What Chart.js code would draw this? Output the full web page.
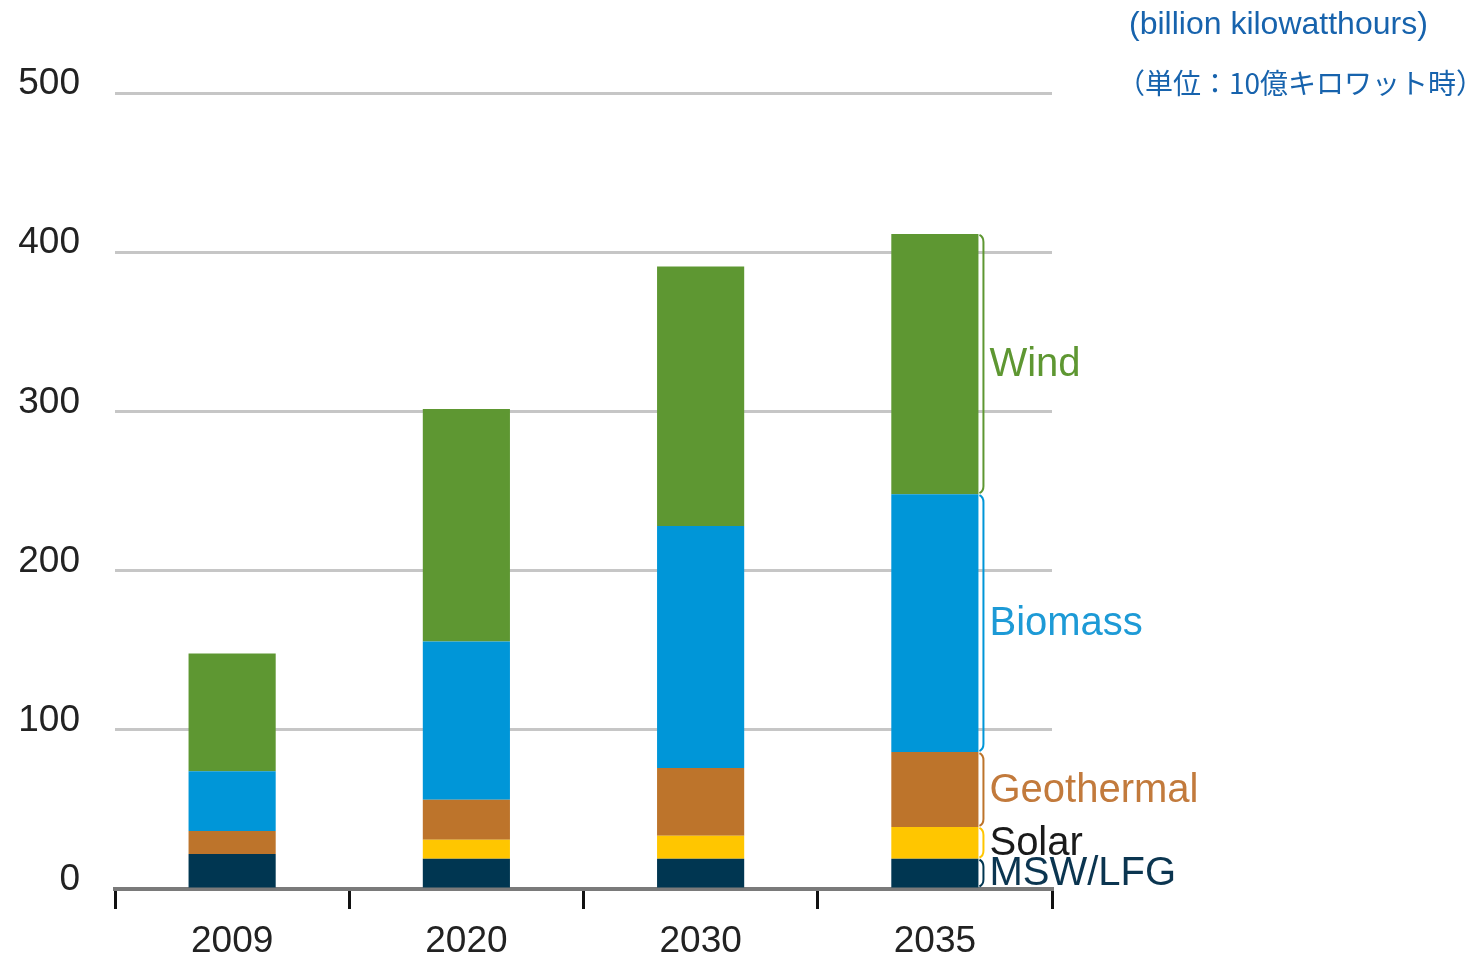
<!DOCTYPE html>
<html lang="ja">
<head>
  <meta charset="UTF-8" />
  <title>Renewable generation</title>
  <style>
    body {
      margin: 0;
      background: #fff;
      font-family: Arial, "Liberation Sans", sans-serif;
    }
    #wrap {
      position: relative;
      width: 1484px;
      height: 957px;
    }
    .unit {
      position: absolute;
      color: #1763ad;
      white-space: nowrap;
    }
    #unitEn { left: 1129px; top: 5px; font-size: 32px; }
    #unitJa { left: 1117px; top: 62px; font-size: 28px; font-family: "Noto Sans CJK JP", sans-serif; }
  </style>
  <script src="https://cdn.jsdelivr.net/npm/chart.js@4/dist/chart.umd.min.js"></script>
</head>
<body>
  <div id="wrap">
    <canvas id="chart" width="1484" height="957"></canvas>
    <div class="unit" id="unitEn">(billion kilowatthours)</div>
    <div class="unit" id="unitJa">（単位：10億キロワット時）</div>
  </div>

  <script>
    const years = ["2009", "2020", "2030", "2035"];
    const yTicks = [0, 100, 200, 300, 400, 500];

    const mswLfg     = [22, 19, 19, 19];
    const solar      = [0, 12, 14.5, 20];
    const geothermal = [14.5, 25, 42.5, 47];
    const biomass    = [37.5, 99.5, 152, 162];
    const wind       = [74, 146, 163, 163.5];

    const seriesNames  = ["MSW/LFG", "Solar", "Geothermal", "Biomass", "Wind"];
    const seriesColors = ["#003651", "#ffc600", "#bd742b", "#0096d8", "#5e9732"];
    const labelColors  = ["#0b3550", "#1a1a1a", "#c27a3c", "#1d9ad6", "#5e9732"];

    // brackets + labels next to the last bar
    const sideLabels = {
      id: "sideLabels",
      afterDatasetsDraw(chart) {
        const ctx = chart.ctx;
        const last = years.length - 1;
        ctx.save();
        chart.data.datasets.forEach((ds, i) => {
          const bar = chart.getDatasetMeta(i).data[last];
          if (!bar) return;
          const right = bar.x + bar.width / 2;
          const top = Math.min(bar.y, bar.base);
          const bottom = Math.max(bar.y, bar.base);
          ctx.strokeStyle = ds.backgroundColor;
          ctx.lineWidth = 2;
          ctx.beginPath();
          ctx.moveTo(right + 1, top + 1);
          ctx.quadraticCurveTo(right + 5, top + 3, right + 5, top + 8);
          ctx.lineTo(right + 5, bottom - 8);
          ctx.quadraticCurveTo(right + 5, bottom - 3, right + 1, bottom - 1);
          ctx.stroke();
          ctx.fillStyle = labelColors[i];
          ctx.font = "40px Arial, 'Liberation Sans', sans-serif";
          ctx.textAlign = "left";
          ctx.textBaseline = "middle";
          ctx.fillText(seriesNames[i], right + 11, (top + bottom) / 2 + 1);
        });
        ctx.restore();
      }
    };

    const values = [mswLfg, solar, geothermal, biomass, wind];

    new Chart(document.getElementById("chart"), {
      type: "bar",
      data: {
        labels: years,
        datasets: values.map((v, i) => ({
          label: seriesNames[i],
          data: v,
          backgroundColor: seriesColors[i],
          borderWidth: 0,
          categoryPercentage: 1,
          barPercentage: 0.372
        }))
      },
      options: {
        responsive: false,
        animation: false,
        devicePixelRatio: 1,
        layout: { padding: { left: 16, right: 432, top: 93, bottom: 0 } },
        plugins: {
          legend: { display: false },
          tooltip: { enabled: false }
        },
        scales: {
          x: {
            stacked: true,
            offset: true,
            afterFit(scale) { scale.height = 68; },
            grid: {
              offset: true,
              drawOnChartArea: false,
              drawTicks: true,
              tickLength: 20,
              color: "#111",
              lineWidth: 3
            },
            border: { display: true, color: "#7a7a7a", width: 4 },
            ticks: {
              color: "#222",
              padding: 14,
              font: { size: 37, family: "Arial, 'Liberation Sans', sans-serif", lineHeight: 1 }
            }
          },
          y: {
            stacked: true,
            min: 0,
            max: 500,
            afterFit(scale) { scale.width = 99; },
            afterBuildTicks(scale) {
              scale.ticks = yTicks.map(v => ({ value: v }));
            },
            grid: {
              color: "#c6c6c6",
              lineWidth: 3,
              drawTicks: false
            },
            border: { display: false },
            ticks: {
              color: "#222",
              padding: 35,
              labelOffset: -9,
              font: { size: 37, family: "Arial, 'Liberation Sans', sans-serif" }
            }
          }
        }
      },
      plugins: [sideLabels]
    });
  </script>
</body>
</html>
